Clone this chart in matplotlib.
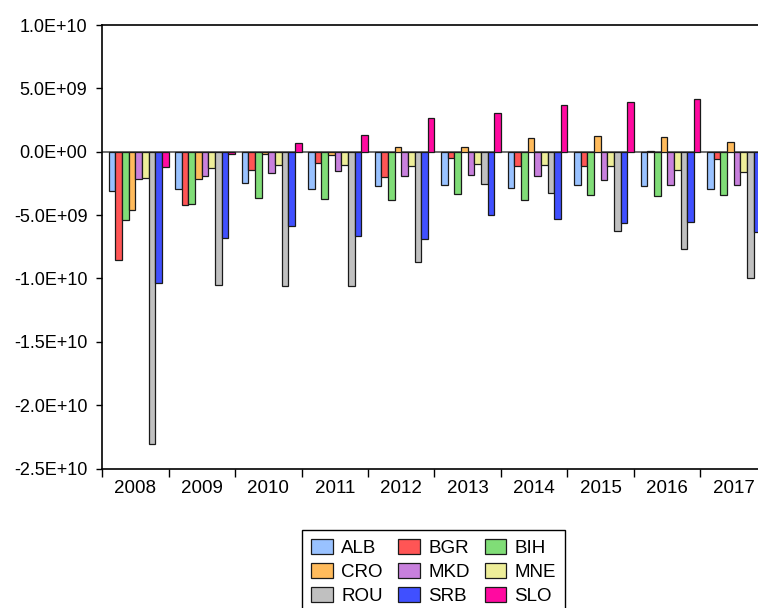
import matplotlib
matplotlib.use("Agg")
import matplotlib.pyplot as plt
from matplotlib.ticker import FuncFormatter, FixedLocator
import numpy as np

plt.rcParams['font.family'] = ['Liberation Sans', 'DejaVu Sans']

years = ["2008", "2009", "2010", "2011", "2012", "2013", "2014", "2015", "2016", "2017"]
countries = ["ALB", "BGR", "BIH", "CRO", "MKD", "MNE", "ROU", "SRB", "SLO"]

# values in billions
ALB = [-3.07, -2.91, -2.44, -2.91, -2.73, -2.62, -2.89, -2.65, -2.73, -2.91]
BGR = [-8.58, -4.20, -1.42, -0.89, -2.00, -0.47, -1.15, -1.10, 0.08, -0.55]
BIH = [-5.35, -4.09, -3.68, -3.70, -3.78, -3.31, -3.78, -3.41, -3.46, -3.41]
CRO = [-4.59, -2.13, -0.21, -0.29, 0.34, 0.37, 1.05, 1.21, 1.13, 0.73]
MKD = [-2.13, -1.89, -1.68, -1.55, -1.94, -1.81, -1.94, -2.20, -2.60, -2.65]
MNE = [-2.07, -1.26, -1.05, -1.05, -1.10, -0.94, -1.05, -1.15, -1.42, -1.60]
ROU = [-23.07, -10.53, -10.63, -10.60, -8.69, -2.55, -3.26, -6.22, -7.69, -9.95]
SRB = [-10.34, -6.80, -5.85, -6.69, -6.88, -4.99, -5.28, -5.59, -5.51, -6.30]
SLO = [-1.20, -0.21, 0.68, 1.31, 2.65, 3.05, 3.70, 3.96, 4.17, 4.30]

series = [ALB, BGR, BIH, CRO, MKD, MNE, ROU, SRB, SLO]
colors = ["#99C2FF", "#FF5555", "#80DD77", "#FFBB5C", "#C880DD",
          "#EEEE99", "#C0C0C0", "#4050FF", "#FF0AA0"]

fig = plt.figure(figsize=(7.58, 6.08), dpi=100)
ax = fig.add_axes([102/758, 1 - 468.5/608, 665/758, 443.5/608])

x = np.arange(len(years))
w = 0.1
handles = []
for j, (vals, c) in enumerate(zip(series, colors)):
    b = ax.bar(x - 0.4 + j*w, np.array(vals)*1e9, width=w, align='edge',
               color=c, edgecolor='#1a1a1a', linewidth=0.9, zorder=3)
    handles.append(b)

ax.axhline(0, color='#555555', lw=1.2, zorder=2)

ax.set_xlim(-0.5, 9.5)
ax.set_ylim(-2.5e10, 1.0e10)
ax.set_yticks(np.arange(-2.5e10, 1.01e10, 5e9))
ax.yaxis.set_major_formatter(FuncFormatter(lambda v, p: f"{v:.1E}"))

# tick marks between the years, labels at group centres
ax.xaxis.set_major_locator(FixedLocator(np.arange(-0.5, 10, 1)))
ax.xaxis.set_major_formatter(FuncFormatter(lambda v, p: ""))
ax.set_xticks(x, minor=True)
ax.set_xticklabels(years, minor=True)
ax.tick_params(axis='x', which='minor', length=0, pad=8, labelsize=13.5)
ax.tick_params(axis='x', which='major', length=6, width=1, direction='out')
ax.tick_params(axis='y', length=4.5, width=1, pad=6, labelsize=13)

for s in ['left', 'bottom', 'top', 'right']:
    ax.spines[s].set_linewidth(1.2)

order = [0, 3, 6, 1, 4, 7, 2, 5, 8]
leg = fig.legend([handles[i] for i in order], [countries[i] for i in order],
                 ncol=3, loc='upper left', bbox_to_anchor=(302/758, 1 - 530/608),
                 fontsize=13.5, frameon=True, fancybox=False, framealpha=1,
                 edgecolor='black', handlelength=1.15, handleheight=0.85,
                 handletextpad=0.45, columnspacing=0.8, labelspacing=0.3,
                 borderpad=0.5, borderaxespad=0)
leg.get_frame().set_linewidth(1.0)

fig.savefig("out.png", dpi=100)
